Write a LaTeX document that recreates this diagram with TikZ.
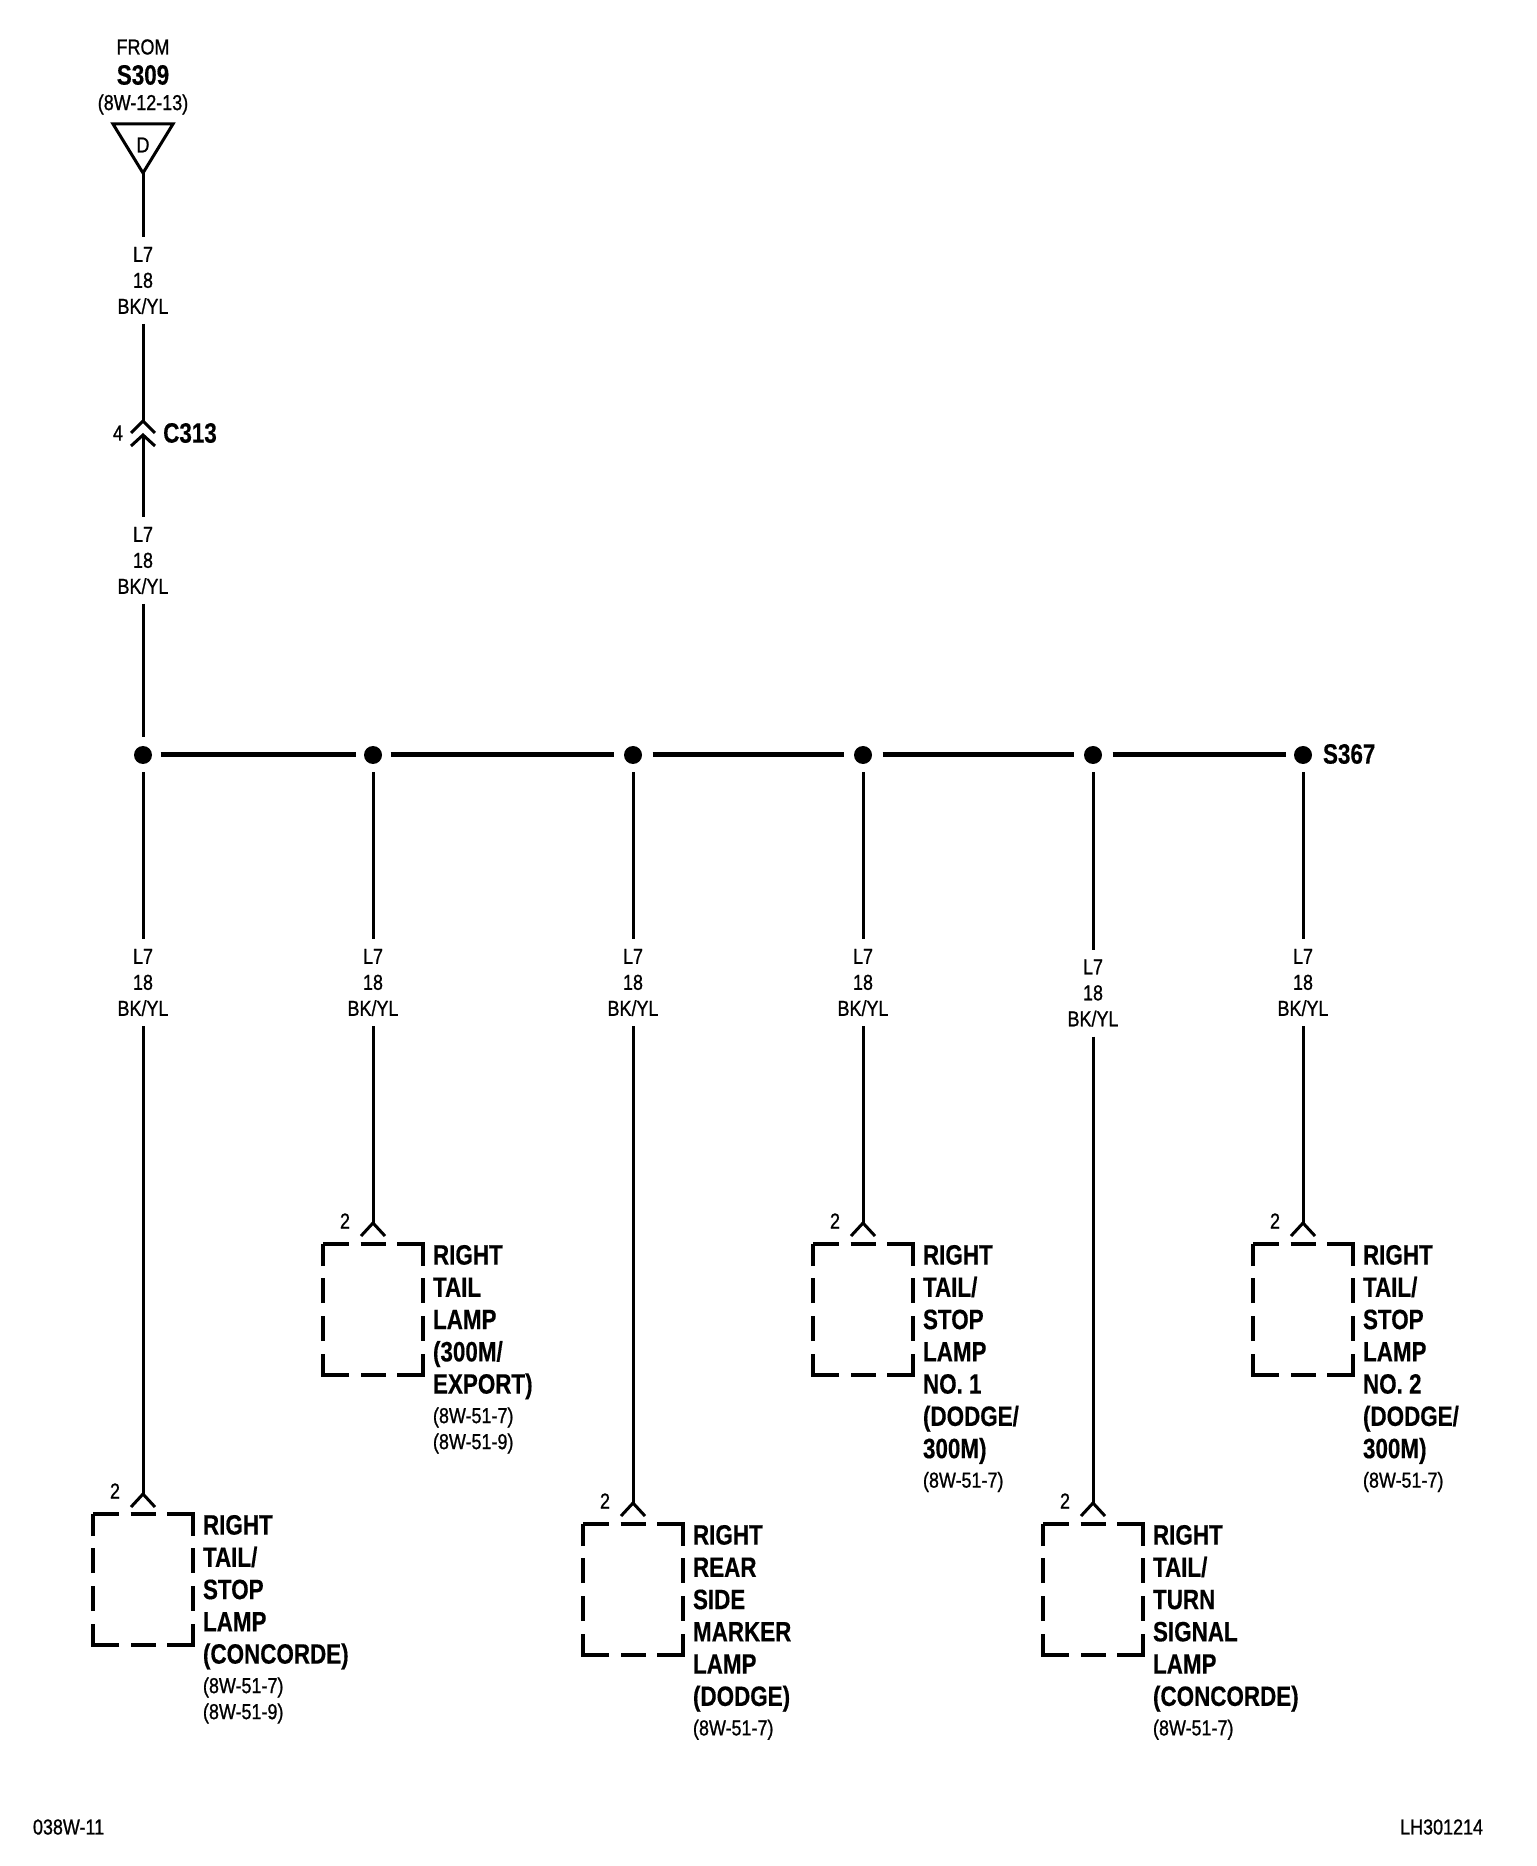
\documentclass[tikz,border=0pt]{standalone}
\usepackage{fontspec}
\usetikzlibrary{positioning}
\newfontfamily\wirefont[FakeStretch=0.83,FakeBold=0.9]{Liberation Sans}
\newfontfamily\namefont[FakeStretch=0.8,FakeBold=0.4]{Liberation Sans}
\tikzset{
  wire/.style={line width=0.03cm},
  bus/.style={line width=0.05cm},
  splice/.style={circle,fill=black,inner sep=0pt,minimum size=0.18cm,outer sep=0.085cm},
  wirelabel/.style={inner sep=0pt,outer sep=0pt,minimum height=0.87cm,align=center,
    font=\wirefont\fontsize{6.15}{7.4}\selectfont},
  smalltext/.style={inner sep=0pt,outer sep=0pt,align=left,
    font=\wirefont\fontsize{6.15}{7.4}\selectfont},
  boldtext/.style={inner sep=0pt,outer sep=0pt,align=left,
    font=\namefont\bfseries\fontsize{7.97}{9.18}\selectfont},
  lampbox/.style={inner sep=0pt,outer sep=0pt,minimum width=1cm,minimum height=1.31cm},
  boxedge/.style={line width=0.045cm,line join=miter,
    dash pattern=on .26cm off .115cm on .25cm off .115cm on .48cm off .12cm on .25cm off .13cm
    on .25cm off .13cm on .47cm off .115cm on .25cm off .115cm on .47cm off .13cm on .25cm
    off .13cm on .25cm off .12cm on .22cm off 0cm}
}
\begin{document}
\begin{tikzpicture}[y=-1cm]
    \useasboundingbox (0,0) rectangle (15.36,18.66);
    % source and inline connector
    \node[smalltext] (from) at (1.43,0.47) {FROM};
    \node[boldtext] (s309) at (1.43,0.75) {S309};
    \node[smalltext] (fromref) at (1.43,1.045) {(8W-12-13)};
    \node[smalltext] (termD) at (1.43,1.45) {D};
    \coordinate (termTip) at (1.43,1.73);
    \draw[wire,line join=miter] (1.13,1.24) -- (1.73,1.24) -- (termTip) -- cycle;
    \node[wirelabel] (w0) at (1.43,2.805) {L7\\18\\BK/YL};
    \coordinate (c313a) at (1.43,4.21);
    \coordinate (c313b) at (1.43,4.35);
    \node[smalltext] (pin4) at (1.18,4.33) {4};
    \node[boldtext] (c313) at (1.90,4.33) {C313};
    \node[wirelabel] (w1) at (1.43,5.605) {L7\\18\\BK/YL};
    % splice row
    \begin{scope}[every node/.style={splice}]
        \node (d1) at (1.43,7.55) {};
        \node (d2) at (3.73,7.55) {};
        \node (d3) at (6.33,7.55) {};
        \node (d4) at (8.63,7.55) {};
        \node (d5) at (10.93,7.55) {};
        \node (d6) at (13.03,7.55) {};
    \end{scope}
    \node[boldtext,anchor=west] (s367) at (13.23,7.54) {S367};
    % wire labels below the splice
    \begin{scope}[every node/.style={wirelabel}]
        \node (l1) at (1.43,9.825) {L7\\18\\BK/YL};
        \node (l2) at (3.73,9.825) {L7\\18\\BK/YL};
        \node (l3) at (6.33,9.825) {L7\\18\\BK/YL};
        \node (l4) at (8.63,9.825) {L7\\18\\BK/YL};
        \node (l5) at (10.93,9.93) {L7\\18\\BK/YL};
        \node (l6) at (13.03,9.825) {L7\\18\\BK/YL};
    \end{scope}
    % lamps
    \begin{scope}[every node/.style={lampbox}]
        \node (a) at (1.43,15.795) {};
        \node (b) at (3.73,13.095) {};
        \node (c) at (6.33,15.895) {};
        \node (d) at (8.63,13.095) {};
        \node (e) at (10.93,15.895) {};
        \node (f) at (13.03,13.095) {};
    \end{scope}
    \begin{scope}[every path/.style={boxedge}]
        \draw (a.north west) -- (a.north east) -- (a.south east) -- (a.south west) -- cycle;
        \draw (b.north west) -- (b.north east) -- (b.south east) -- (b.south west) -- cycle;
        \draw (c.north west) -- (c.north east) -- (c.south east) -- (c.south west) -- cycle;
        \draw (d.north west) -- (d.north east) -- (d.south east) -- (d.south west) -- cycle;
        \draw (e.north west) -- (e.north east) -- (e.south east) -- (e.south west) -- cycle;
        \draw (f.north west) -- (f.north east) -- (f.south east) -- (f.south west) -- cycle;
    \end{scope}
    \coordinate (ta) at (1.43,14.94);
    \coordinate (tb) at (3.73,12.23);
    \coordinate (tc) at (6.33,15.03);
    \coordinate (td) at (8.63,12.23);
    \coordinate (te) at (10.93,15.03);
    \coordinate (tf) at (13.03,12.23);
    \begin{scope}[every node/.style={smalltext}]
        \node at (1.15,14.91) (pa) {2};
        \node at (3.45,12.21) (pb) {2};
        \node at (6.05,15.01) (pc) {2};
        \node at (8.35,12.21) (pd) {2};
        \node at (10.65,15.01) (pe) {2};
        \node at (12.75,12.21) (pf) {2};
    \end{scope}
    \begin{scope}[every node/.style={boldtext}]
        \node[below right=0.01cm and 0.10cm of a.north east] (na) {RIGHT\\TAIL/\\STOP\\LAMP\\(CONCORDE)};
        \node[below right=0.01cm and 0.10cm of b.north east] (nb) {RIGHT\\TAIL\\LAMP\\(300M/\\EXPORT)};
        \node[below right=0.01cm and 0.10cm of c.north east] (nc) {RIGHT\\REAR\\SIDE\\MARKER\\LAMP\\(DODGE)};
        \node[below right=0.01cm and 0.10cm of d.north east] (nd) {RIGHT\\TAIL/\\STOP\\LAMP\\NO. 1\\(DODGE/\\300M)};
        \node[below right=0.01cm and 0.10cm of e.north east] (ne) {RIGHT\\TAIL/\\TURN\\SIGNAL\\LAMP\\(CONCORDE)};
        \node[below right=0.01cm and 0.10cm of f.north east] (nf) {RIGHT\\TAIL/\\STOP\\LAMP\\NO. 2\\(DODGE/\\300M)};
    \end{scope}
    \begin{scope}[every node/.style={smalltext}]
        \node[below right=0.08cm and 0cm of na.south west] (ra) {(8W-51-7)\\(8W-51-9)};
        \node[below right=0.08cm and 0cm of nb.south west] (rb) {(8W-51-7)\\(8W-51-9)};
        \node[below right=0.08cm and 0cm of nc.south west] (rc) {(8W-51-7)};
        \node[below right=0.08cm and 0cm of nd.south west] (rd) {(8W-51-7)};
        \node[below right=0.08cm and 0cm of ne.south west] (re) {(8W-51-7)};
        \node[below right=0.08cm and 0cm of nf.south west] (rf) {(8W-51-7)};
    \end{scope}
    \node[smalltext,anchor=west] (sheet) at (0.33,18.27) {038W-11};
    \node[smalltext,anchor=east] (code) at (14.83,18.27) {LH301214};
    % connectors
    \draw[wire] (termTip) -- (w0);
    \draw[wire] (w0) -- (c313a);
    \draw[wire] (c313a) ++(-.12,.12) -- (c313a) -- ++(.12,.12);
    \draw[wire] (c313b) ++(-.12,.11) -- (c313b) -- ++(.12,.11);
    \draw[wire] (c313b) -- (w1);
    \draw[wire] (w1) -- (d1);
    \draw[bus] (d1) -- (d2);
    \draw[bus,shorten >=0.02cm] (d2) -- (d3);
    \draw[bus,shorten <=0.02cm,shorten >=0.02cm] (d3) -- (d4);
    \draw[bus,shorten <=0.02cm,shorten >=0.02cm] (d4) -- (d5);
    \draw[bus,shorten <=0.02cm] (d5) -- (d6);
    \draw[wire] (d1) -- (l1);
    \draw[wire] (d2) -- (l2);
    \draw[wire] (d3) -- (l3);
    \draw[wire] (d4) -- (l4);
    \draw[wire] (d5) -- (l5);
    \draw[wire] (d6) -- (l6);
    \draw[wire] (l1) -- (ta);
    \draw[wire] (l2) -- (tb);
    \draw[wire] (l3) -- (tc);
    \draw[wire] (l4) -- (td);
    \draw[wire] (l5) -- (te);
    \draw[wire] (l6) -- (tf);
    \draw[wire] (ta) ++(-.12,.13) -- (ta) -- ++(.12,.13);
    \draw[wire] (tb) ++(-.12,.13) -- (tb) -- ++(.12,.13);
    \draw[wire] (tc) ++(-.12,.13) -- (tc) -- ++(.12,.13);
    \draw[wire] (td) ++(-.12,.13) -- (td) -- ++(.12,.13);
    \draw[wire] (te) ++(-.12,.13) -- (te) -- ++(.12,.13);
    \draw[wire] (tf) ++(-.12,.13) -- (tf) -- ++(.12,.13);
\end{tikzpicture}
\end{document}
